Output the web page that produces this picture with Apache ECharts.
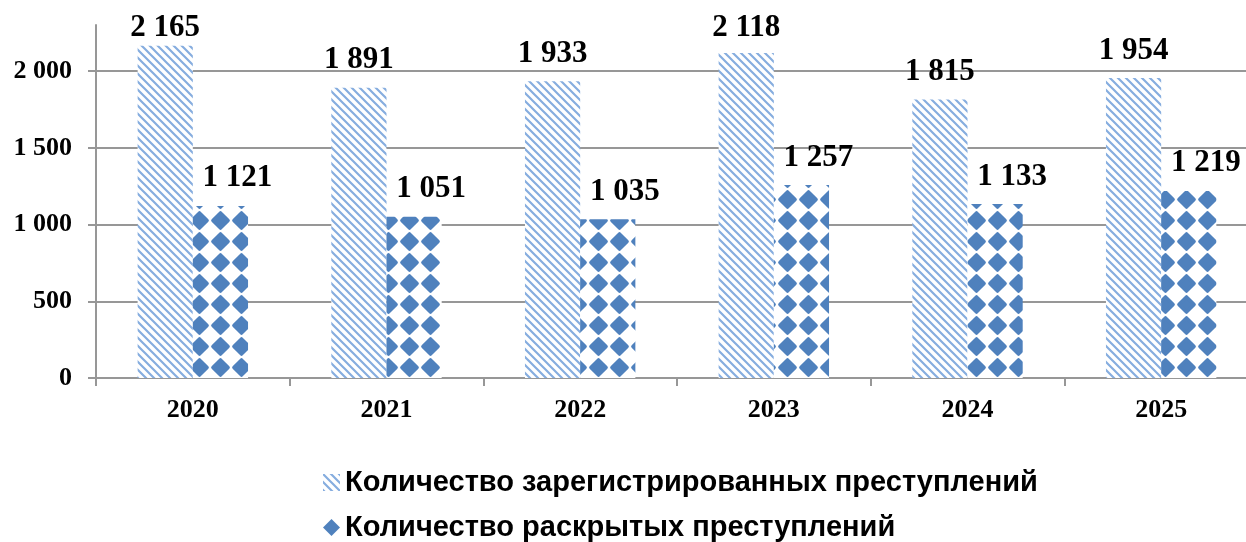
<!DOCTYPE html>
<html>
<head>
<meta charset="utf-8">
<script src="https://cdn.jsdelivr.net/npm/echarts@6/dist/echarts.min.js"></script>
<style>
html,body{margin:0;padding:0;background:#fff;}
#chart{width:1246px;height:542px;}
</style>
</head>
<body>
<div id="chart"></div>
<script>
const categories = ['2020', '2021', '2022', '2023', '2024', '2025'];
const registered = [2165, 1891, 1933, 2118, 1815, 1954];
const solved = [1121, 1051, 1035, 1257, 1133, 1219];
const seriesNames = ['Количество зарегистрированных преступлений', 'Количество раскрытых преступлений'];

function fmt(v) {
  return String(v).replace(/\B(?=(\d{3})+(?!\d))/g, ' ');
}

function stripePattern() {
  const s = 8;
  const c = document.createElement('canvas');
  c.width = s; c.height = s;
  const g = c.getContext('2d');
  g.fillStyle = '#ffffff';
  g.fillRect(0, 0, s, s);
  g.strokeStyle = '#86addf';
  g.lineWidth = 2.2;
  g.beginPath();
  g.moveTo(-2, -2); g.lineTo(s + 2, s + 2);
  g.moveTo(-2, s - 2); g.lineTo(2, s + 2);
  g.moveTo(s - 2, -2); g.lineTo(s + 2, 2);
  g.stroke();
  return c;
}

function diamondPattern() {
  const s = 21;
  const c = document.createElement('canvas');
  c.width = s; c.height = s;
  const g = c.getContext('2d');
  g.fillStyle = '#ffffff';
  g.fillRect(0, 0, s, s);
  g.fillStyle = '#4f81bd';
  g.strokeStyle = '#4f81bd';
  g.lineJoin = 'round';
  g.lineWidth = 3.5;
  const cx = s / 2, cy = s / 2, r = 7.6;
  g.beginPath();
  g.moveTo(cx, cy - r); g.lineTo(cx + r, cy); g.lineTo(cx, cy + r); g.lineTo(cx - r, cy);
  g.closePath();
  g.fill(); g.stroke();
  return c;
}

const chart = echarts.init(document.getElementById('chart'), null, {renderer: 'canvas'});
const axisGray = '#979797';
const legendText = {fontFamily: "'Liberation Sans', Arial, sans-serif", fontWeight: 'bold', fontSize: 29, color: '#000'};
const LABEL_TOP = 12;
const LABEL_SHIFT = [0, 17];
const valueLabel = {show: true, position: 'top', distance: 12, fontFamily: 'Liberation Serif', fontWeight: 'bold', fontSize: 31, color: '#000', formatter: p => fmt(p.value)};
const option = {
  backgroundColor: '#ffffff',
  animation: false,
  grid: {left: 96, width: 1162, top: 25, bottom: 164, containLabel: false, outerBoundsMode: 'none'},
  legend: [
    {
      left: 318, top: 463, itemWidth: 17, itemHeight: 17, itemGap: 8,
      textStyle: legendText,
      data: [{name: seriesNames[0], icon: 'rect'}]
    },
    {
      left: 318, top: 508, itemWidth: 17, itemHeight: 17, itemGap: 8,
      textStyle: legendText,
      data: [{name: seriesNames[1], icon: 'diamond', itemStyle: {color: '#4f81bd'}}]
    }
  ],
  xAxis: {
    type: 'category',
    data: categories,
    axisLine: {lineStyle: {color: axisGray, width: 2}},
    axisTick: {show: true, length: 8, lineStyle: {color: axisGray, width: 2}},
    axisLabel: {fontFamily: 'Liberation Serif', fontWeight: 'bold', fontSize: 26, color: '#000', margin: 19}
  },
  yAxis: {
    type: 'value',
    min: 0,
    max: 2300,
    interval: 500,
    axisLine: {show: true, lineStyle: {color: axisGray, width: 2}},
    axisTick: {show: true, length: 8, lineStyle: {color: axisGray, width: 2}},
    axisLabel: {fontFamily: 'Liberation Serif', fontWeight: 'bold', fontSize: 26, color: '#000', margin: 24,
      showMaxLabel: false, formatter: v => fmt(v)},
    splitLine: {show: true, lineStyle: {color: [axisGray, axisGray, axisGray, axisGray, axisGray, 'rgba(0,0,0,0)'], width: 2}}
  },
  labelLayout: function (params) {
    const r = params.labelRect;
    const shift = LABEL_SHIFT[params.seriesIndex] || 0;
    return {
      x: r.x + r.width / 2 + shift,
      y: Math.max(r.y, LABEL_TOP),
      align: 'center',
      verticalAlign: 'top'
    };
  },
  series: [
    {
      name: seriesNames[0],
      type: 'bar',
      data: registered,
      barGap: '0%',
      barCategoryGap: '43%',
      itemStyle: {color: {image: stripePattern(), repeat: 'repeat'}},
      label: valueLabel
    },
    {
      name: seriesNames[1],
      type: 'bar',
      data: solved,
      itemStyle: {color: {image: diamondPattern(), repeat: 'repeat'}},
      label: valueLabel
    }
  ]
};
chart.setOption(option);
</script>
</body>
</html>
